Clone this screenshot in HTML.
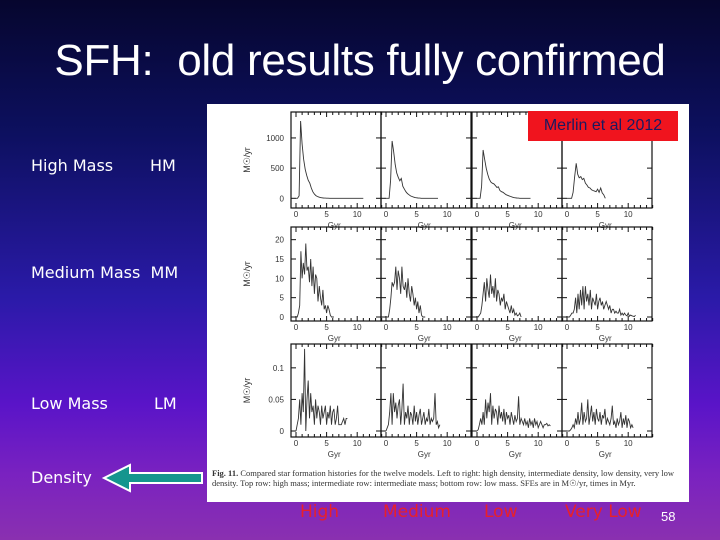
<!DOCTYPE html>
<html><head><meta charset="utf-8"><style>
html,body{margin:0;padding:0}
body{width:720px;height:540px;overflow:hidden;position:relative;background:linear-gradient(180deg,#06062e 0%,#0d1060 25%,#2a1aa8 55%,#5a14c8 75%,#7a22c0 88%,#8a30b0 100%);font-family:"Liberation Sans",sans-serif}
.t{position:absolute;white-space:nowrap}
.side{color:#fff;font-family:"DejaVu Sans",sans-serif;font-size:16px}
.bot{color:#e8202a;font-family:"DejaVu Sans",sans-serif;font-size:17px;top:502px}
</style></head><body>
<div class="t" style="left:0;width:720px;text-align:center;top:36px;font-size:44px;color:#fff;letter-spacing:-0.3px">SFH:&nbsp; old results fully confirmed</div>
<div class="t side" style="left:31px;top:156px">High Mass</div>
<div class="t side" style="left:150px;top:156px">HM</div>
<div class="t side" style="left:31px;top:263px">Medium Mass&nbsp; MM</div>
<div class="t side" style="left:31px;top:394px">Low Mass</div>
<div class="t side" style="left:154px;top:394px">LM</div>
<div class="t side" style="left:31px;top:468px">Density</div>
<svg style="position:absolute;left:100px;top:462px" width="106" height="32"><polygon points="4,16 30,3 30,11 102,11 102,21 30,21 30,29" fill="#14958e" stroke="#fff" stroke-width="2"/></svg>
<div style="position:absolute;left:207px;top:104px;width:482px;height:398px;background:#fff"></div>
<svg id="chart" style="position:absolute;left:0;top:0" width="720" height="540"></svg>
<div class="t" style="left:528px;top:111px;width:150px;height:30px;background:#f0141e;color:#1a1a60;font-size:16px;line-height:30px;text-align:center">Merlin et al 2012</div>
<div class="t" style="left:212px;top:469px;width:474px;font-family:'Liberation Serif',serif;font-size:8.5px;line-height:9.5px;color:#333;white-space:normal"><b>Fig. 11.</b> Compared star formation histories for the twelve models. Left to right: high density, intermediate density, low density, very low density. Top row: high mass; intermediate row: intermediate mass; bottom row: low mass. SFEs are in M☉/yr, times in Myr.</div>
<div class="t bot" style="left:300px">High</div>
<div class="t bot" style="left:383px">Medium</div>
<div class="t bot" style="left:484px">Low</div>
<div class="t bot" style="left:565px">Very Low</div>
<div class="t" style="left:661px;top:509px;color:#fff;font-size:13px">58</div>
<script>
const rowNames=["high-mass","medium-mass","low-mass"];
const colNames=["high-density","medium-density","low-density","very-low-density"];
const rowSteps=[0.25,0.2,0.2];
const xTicks=[0,5,10];
const yTicksTop=[0,500,1000];
const yTicksMid=[0,5,10,15,20];
const yTicksLow=[0,0.05,0.1];
const yTickLabelsLow=["0","0.05","0.1"];
const top1=[0,0,40,1280,900,650,480,380,300,250,170,110,70,45,30,20,12,8,5,3,2,1,0,0,0,0,0,0,0,0,0,0,0,0,0,0,0,0,0,0,0,0,0,0,0];
const top2=[0,0,0,300,950,780,560,420,350,290,330,200,150,110,80,60,40,30,20,12,8,5,3,0,0,0,0,0,0,0,0,0,0,0,0];
const top3=[0,0,0,200,800,650,500,400,320,270,250,240,210,180,190,130,110,100,80,60,50,40,30,20,12,8,5,3,0,0,0,0,0,0,0,0];
const top4=[0,0,0,0,100,350,580,400,340,360,310,330,250,220,180,170,140,130,120,110,150,100,170,90,60,0];
const mid1=[0,0,1,3,17,10,14,11,19,12,13,9,15,8,13,6,11,10,4,8,5,3,7,2,3,1,3,2,0.5,0,0,0];
const mid2=[0,0,0,2,5,9,8,9,13,7,12,10,6,13,8,7,9,5,10,6,4,8,6,3,5,2,4,1,3,0.5,0,0,0];
const mid3=[0,0,0.5,1,3,6,9,4,10,7,5,11,6,8,5,10,4,7,6,3,5,4,6,2,4,3,2,1,3,1,2,0.5,1,0.3,0.5,1,0];
const mid4=[0,0,0,0.5,1,1,2,5,1,6,2,7,3,8,2,8,4,6,3,7,2,5,4,3,6,2,4,5,3,4,2,3,4,3,2,3,1,2,2,1,1.5,1,1,2,0.5,1,0.5,1,0.5,0.3,1,0.2,0.5,0.3,0.2,0.1,0.5];
const low1=[0,0.01,0.02,0.05,0.01,0.06,0.03,0.13,0,0.05,0.08,0.02,0.06,0.03,0.04,0.01,0.05,0.02,0.04,0.03,0.01,0.04,0.02,0.03,0.04,0.01,0.03,0.02,0.04,0.01,0.03,0.035,0.01,0.02,0.04,0.01,0.01,0.01,0.015,0.02,0.01,0.02,0.02];
const low2=[0,0.005,0.01,0.03,0.06,0.01,0.06,0.03,0.045,0.02,0.04,0.05,0.01,0.035,0.075,0.01,0.03,0.02,0.04,0.01,0.03,0.025,0.01,0.04,0.015,0.03,0.01,0.025,0.035,0.01,0.02,0.03,0.01,0.02,0.015,0.035,0.01,0.02,0.015,0.02,0.06,0.01,0.015,0.005,0.01];
const low3=[0,0.002,0.01,0.02,0.01,0.03,0.01,0.05,0.02,0.045,0.03,0.06,0.01,0.04,0.02,0.035,0.03,0.01,0.04,0.02,0.03,0.015,0.035,0.01,0.03,0.02,0.025,0.01,0.03,0.02,0.01,0.025,0.015,0.02,0.055,0.01,0.02,0.015,0.01,0.02,0.01,0.015,0.005,0.02,0.01,0.015,0.005,0.02,0.01,0.015,0.005,0.01,0.015,0.01,0.005,0.01,0.01,0.012,0.008,0.01,0.008];
const low4=[0,0,0,0.002,0.005,0.01,0.005,0.02,0.01,0.03,0.01,0.02,0.045,0.01,0.03,0.015,0.02,0.05,0.01,0.025,0.04,0.015,0.03,0.01,0.035,0.02,0.015,0.03,0.01,0.025,0.02,0.035,0.01,0.02,0.015,0.01,0.02,0.04,0.01,0.015,0.005,0.02,0.01,0.015,0.03,0.005,0.02,0.01,0.025,0.005,0.02,0.015,0.005,0.01,0.005];
const series=[[top1,top2,top3,top4],[mid1,mid2,mid3,mid4],[low1,low2,low3,low4]];
const yMax=[1380,22.5,0.133];
const yTicks=[yTicksTop,yTicksMid,yTicksLow];

const NS="http://www.w3.org/2000/svg";
const svg=document.getElementById('chart');
const colX=[291,381,472,562];
const panelW=90;
const rowTop=[112,227,344];
const rowBot=[208,321,437];
const zeroY=[198.3,317,431];
function xScale(c,t){return colX[c]+5+t*6.12;}
function yScale(r,v){const top=rowTop[r]+3;return zeroY[r]-(v/yMax[r])*(zeroY[r]-top);}
function mk(tag,attrs){const e=document.createElementNS(NS,tag);for(const k in attrs)e.setAttribute(k,attrs[k]);svg.appendChild(e);return e;}
for(let r=0;r<3;r++){
  for(let c=0;c<4;c++){
    const fr=mk('rect',{x:colX[c],y:rowTop[r],width:panelW,height:rowBot[r]-rowTop[r],fill:'none',stroke:'#111','stroke-width':1.2});
    
    
    for(let k=0;k<=14;k++){
      const x=xScale(c,k);const L=(k%5===0)?5:3;
      mk('line',{x1:x,x2:x,y1:rowBot[r],y2:rowBot[r]-L,stroke:'#111','stroke-width':1});
      mk('line',{x1:x,x2:x,y1:rowTop[r],y2:rowTop[r]+L,stroke:'#111','stroke-width':1});
    }
    yTicks[r].forEach(v=>{const y=yScale(r,v);
      mk('line',{x1:colX[c],x2:colX[c]+5,y1:y,y2:y,stroke:'#111','stroke-width':1});
      mk('line',{x1:colX[c]+panelW-5,x2:colX[c]+panelW,y1:y,y2:y,stroke:'#111','stroke-width':1});});
    xTicks.forEach(t=>{const tl=mk('text',{x:xScale(c,t),y:rowBot[r]+9,'font-size':8,'text-anchor':'middle',fill:'#333','font-family':'Liberation Sans, sans-serif'});tl.textContent=String(t);
      
      });
    const gl=mk('text',{x:colX[c]+panelW*0.48,y:rowBot[r]+20,'font-size':8,'text-anchor':'middle',fill:'#333','font-family':'Liberation Sans, sans-serif'});gl.textContent='Gyr';
    
    
    const data=series[r][c];
    const pts=data.map((v,i)=>xScale(c,i*rowSteps[r]).toFixed(1)+','+yScale(r,v).toFixed(1)).join(' ');
    const pl=mk('polyline',{points:pts,fill:'none',stroke:'#333','stroke-width':0.9});
    
    
  }
  yTicks[r].forEach((v,i)=>{const lab=r===2?yTickLabelsLow[i]:String(v);
    const tl=mk('text',{x:284,y:yScale(r,v)+3,'font-size':8,'text-anchor':'end',fill:'#333','font-family':'Liberation Sans, sans-serif'});tl.textContent=lab;
    
    });
  const yc=(rowTop[r]+rowBot[r])/2;
  const yt=mk('text',{x:250,y:yc,'font-size':9,'text-anchor':'middle',fill:'#333','font-family':'Liberation Sans, sans-serif',transform:'rotate(-90 250 '+yc+')'});yt.textContent='M☉/yr';
  
  
}
</script>
</body></html>
